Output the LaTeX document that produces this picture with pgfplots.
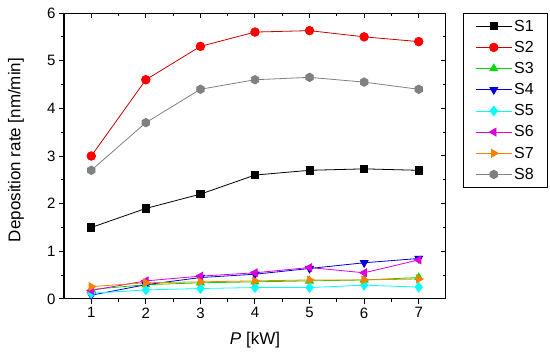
\documentclass[border=0pt]{standalone}
\usepackage{pgfplots}
\pgfplotsset{compat=1.18}
\usepackage{fontspec}
\setmainfont{Liberation Sans}
\usetikzlibrary{plotmarks}
\pgfdeclareplotmark{hexagon*}{%
  \pgfpathmoveto{\pgfqpointpolar{30}{\pgfplotmarksize}}%
  \pgfpathlineto{\pgfqpointpolar{90}{\pgfplotmarksize}}%
  \pgfpathlineto{\pgfqpointpolar{150}{\pgfplotmarksize}}%
  \pgfpathlineto{\pgfqpointpolar{210}{\pgfplotmarksize}}%
  \pgfpathlineto{\pgfqpointpolar{270}{\pgfplotmarksize}}%
  \pgfpathlineto{\pgfqpointpolar{330}{\pgfplotmarksize}}%
  \pgfpathclose\pgfusepathqfillstroke}
\definecolor{cS2}{RGB}{255,0,0}
\definecolor{cS3}{RGB}{0,220,0}
\definecolor{cS4}{RGB}{0,0,220}
\definecolor{cS5}{RGB}{0,255,255}
\definecolor{cS6}{RGB}{220,0,220}
\definecolor{cS7}{RGB}{255,128,0}
\definecolor{cS8}{RGB}{128,128,128}
\begin{document}
\begin{tikzpicture}[x=1pt,y=1pt]
\path[use as bounding box] (0,0) rectangle (550,356);
\pgfplotsset{
  base/.style={at={(64pt,57pt)}, anchor=south west, scale only axis,
    width=382pt, height=286pt, xmin=0.5, xmax=7.5, ymin=0, ymax=6,
    xtick={1,...,7}, ytick={0,...,6}, minor x tick num=1, minor y tick num=1,
    major tick length=5pt, minor tick length=3pt,
    axis line style={line width=1pt},
    tick style={line width=1pt, black},
    /pgf/number format/assume math mode=true,
    font=\fontsize{15}{18}\selectfont}
}
\begin{axis}[base, tick pos=right, tick align=inside, xticklabels={}, yticklabels={}]
\end{axis}
\begin{axis}[base, tick pos=left, tick align=outside,
  xlabel={\textit{P} [kW]}, ylabel={Deposition rate [nm/min]},
  label style={font=\fontsize{17}{20}\selectfont},
  xlabel style={at={(axis description cs:0.5,0)}, anchor=base, yshift=-46pt},
  ylabel style={at={(axis description cs:0,0.5)}, anchor=center, yshift=48pt, xshift=6pt},
  every axis plot/.append style={line width=0.8pt, mark size=4pt},
  legend cell align=left,
  legend image code/.code={\draw[mark repeat=2,mark phase=2] plot coordinates {(0pt,0pt)(18pt,0pt)(36pt,0pt)};},
  legend style={at={(1,1)}, anchor=north west, xshift=17pt, draw=black, line width=0.8pt,
    font=\fontsize{16}{18}\selectfont, row sep=6.5pt, inner xsep=12pt, inner ysep=5.5pt,
    nodes={inner ysep=1pt, inner xsep=2pt}}]
\addplot[black, mark=square*, mark size=3.6pt, mark options={fill=black}] coordinates {(1,1.5)(2,1.9)(3,2.2)(4,2.6)(5,2.7)(6,2.73)(7,2.7)};
\addlegendentry{S1}
\addplot[red!80!black, mark=*, mark size=4.3pt, mark options={fill=cS2, draw=cS2}] coordinates {(1,3.0)(2,4.6)(3,5.3)(4,5.6)(5,5.63)(6,5.5)(7,5.4)};
\addlegendentry{S2}
\addplot[cS3, mark=triangle*, mark size=4.5pt, mark options={fill=cS3}] coordinates {(1,0.2)(2,0.3)(3,0.34)(4,0.36)(5,0.38)(6,0.4)(7,0.45)};
\addlegendentry{S3}
\addplot[cS4, mark=triangle*, mark size=4.5pt, mark options={fill=cS4, rotate=180}] coordinates {(1,0.08)(2,0.3)(3,0.45)(4,0.52)(5,0.64)(6,0.76)(7,0.85)};
\addlegendentry{S4}
\addplot[cS5, mark=diamond*, mark size=4.8pt, mark options={fill=cS5}] coordinates {(1,0.12)(2,0.19)(3,0.22)(4,0.24)(5,0.24)(6,0.29)(7,0.25)};
\addlegendentry{S5}
\addplot[cS6, mark=triangle*, mark size=4.5pt, mark options={fill=cS6, rotate=90}] coordinates {(1,0.18)(2,0.38)(3,0.48)(4,0.55)(5,0.66)(6,0.55)(7,0.82)};
\addlegendentry{S6}
\addplot[cS7, mark=triangle*, mark size=4.5pt, mark options={fill=cS7, rotate=-90}] coordinates {(1,0.26)(2,0.34)(3,0.36)(4,0.38)(5,0.4)(6,0.4)(7,0.42)};
\addlegendentry{S7}
\addplot[cS8, mark=hexagon*, mark size=4.3pt, mark options={fill=cS8}] coordinates {(1,2.7)(2,3.7)(3,4.4)(4,4.6)(5,4.65)(6,4.55)(7,4.4)};
\addlegendentry{S8}
\end{axis}
\end{tikzpicture}
\end{document}
